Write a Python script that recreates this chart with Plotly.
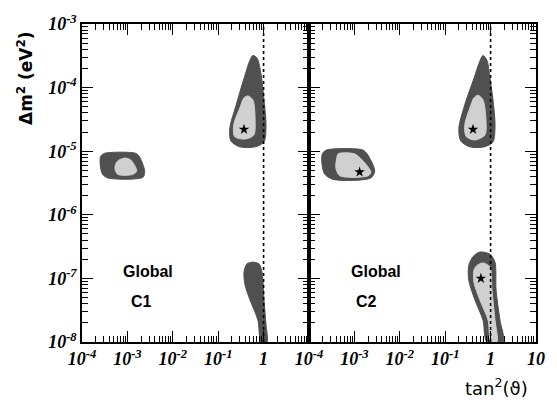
import plotly.graph_objects as go

# ---- axis ticks ----
X_TICKS = [1e-4, 1e-3, 1e-2, 1e-1, 1, 10]
X_LABELS_LEFT = ["10<sup>-4</sup>", "10<sup>-3</sup>", "10<sup>-2</sup>", "10<sup>-1</sup>", "1", ""]
X_LABELS_RIGHT = ["10<sup>-4</sup>", "10<sup>-3</sup>", "10<sup>-2</sup>", "10<sup>-1</sup>", "1", "10"]
Y_TICKS = [1e-8, 1e-7, 1e-6, 1e-5, 1e-4, 1e-3]
Y_LABELS = ["10<sup>-8</sup>", "10<sup>-7</sup>", "10<sup>-6</sup>", "10<sup>-5</sup>", "10<sup>-4</sup>", "10<sup>-3</sup>"]

# ---- panel C1 regions (tan^2, dm^2) ----
C1_SMA_OUT_X = [3.2e-4, 1.5e-3, 1.8e-3, 2.4e-3, 2.2e-3, 3.7e-4, 2.8e-4, 2.5e-4, 2.6e-4]
C1_SMA_OUT_Y = [9.3e-6, 9.3e-6, 8.4e-6, 4.9e-6, 3.9e-6, 3.8e-6, 4.4e-6, 6.7e-6, 8.4e-6]
C1_SMA_IN_X = [6.2e-4, 8.9e-4, 1.2e-3, 1.6e-3, 1.3e-3, 6.2e-4, 5.4e-4, 5.4e-4]
C1_SMA_IN_Y = [7.1e-6, 7.8e-6, 7.2e-6, 4.9e-6, 4.3e-6, 4.3e-6, 5.0e-6, 6.0e-6]

C1_LMA_OUT_X = [0.58, 0.72, 0.88, 1.02, 1.13, 1.02, 0.65, 0.30, 0.19, 0.18, 0.25, 0.37, 0.50]
C1_LMA_OUT_Y = [3.2e-4, 2.9e-4, 1.6e-4, 6.4e-5, 2.6e-5, 1.4e-5, 1.17e-5, 1.17e-5, 1.45e-5, 2.3e-5, 5.4e-5, 1.4e-4, 2.7e-4]
C1_LMA_IN_X = [0.45, 0.58, 0.65, 0.61, 0.39, 0.23, 0.22, 0.30, 0.37]
C1_LMA_IN_Y = [7.4e-5, 6.4e-5, 3.1e-5, 1.8e-5, 1.55e-5, 1.7e-5, 2.6e-5, 4.8e-5, 6.9e-5]

C1_LOW_OUT_X = [0.58, 0.79, 0.92, 1.02, 1.13, 1.19, 0.88, 0.75, 0.50, 0.39, 0.37, 0.43]
C1_LOW_OUT_Y = [1.8e-7, 1.7e-7, 1.26e-7, 4.6e-8, 1.85e-8, 1.0e-8, 1.0e-8, 2.2e-8, 4.6e-8, 7.9e-8, 1.26e-7, 1.7e-7]

C1_BEST_X = [0.37]
C1_BEST_Y = [2.2e-5]

# ---- panel C2 regions ----
C2_SMA_OUT_X = [2.5e-4, 1.5e-3, 1.9e-3, 2.8e-3, 2.3e-3, 3.4e-4, 2.2e-4, 1.9e-4, 2.0e-4]
C2_SMA_OUT_Y = [1.05e-5, 1.05e-5, 9.1e-6, 4.9e-6, 3.8e-6, 3.6e-6, 4.4e-6, 7.2e-6, 9.3e-6]
C2_SMA_IN_X = [4.4e-4, 1.0e-3, 1.5e-3, 2.3e-3, 2.0e-3, 4.8e-4, 3.9e-4, 4.1e-4]
C2_SMA_IN_Y = [9.1e-6, 9.1e-6, 7.2e-6, 4.7e-6, 4.1e-6, 4.1e-6, 5.5e-6, 7.8e-6]

C2_LMA_OUT_X = [0.68, 0.83, 0.97, 1.13, 1.25, 1.13, 0.72, 0.35, 0.22, 0.20, 0.27, 0.43, 0.59]
C2_LMA_OUT_Y = [3.2e-4, 2.7e-4, 1.4e-4, 6.4e-5, 2.6e-5, 1.4e-5, 1.17e-5, 1.17e-5, 1.45e-5, 2.3e-5, 5.4e-5, 1.4e-4, 2.7e-4]
C2_LMA_IN_X = [0.53, 0.68, 0.79, 0.75, 0.45, 0.29, 0.27, 0.35, 0.43]
C2_LMA_IN_Y = [7.6e-5, 6.4e-5, 3.1e-5, 1.8e-5, 1.5e-5, 1.7e-5, 2.6e-5, 4.8e-5, 6.9e-5]

C2_LOW_OUT_X = [0.58, 0.97, 1.25, 1.32, 1.61, 1.9, 0.83, 0.68, 0.45, 0.33, 0.33, 0.41]
C2_LOW_OUT_Y = [2.6e-7, 2.4e-7, 1.8e-7, 6.6e-8, 2.2e-8, 1.0e-8, 1.0e-8, 2.2e-8, 4.6e-8, 9.4e-8, 1.6e-7, 2.2e-7]
C2_LOW_IN_X = [0.68, 0.97, 1.07, 1.25, 1.38, 1.02, 0.88, 0.58, 0.43, 0.43, 0.50]
C2_LOW_IN_Y = [1.75e-7, 1.5e-7, 6.6e-8, 2.2e-8, 1.0e-8, 1.0e-8, 2.2e-8, 4.6e-8, 8.7e-8, 1.35e-7, 1.6e-7]

C2_BEST_X = [1.3e-3, 0.41, 0.61]
C2_BEST_Y = [4.7e-6, 2.2e-5, 1.0e-7]

MAXIMAL_MIXING = 1.0

DARK = "#505050"
LIGHT = "#d0d0d0"

# page body has an 8px margin: figure is drawn 8px in from the window corner
OFF = 8
W, H = 557 - OFF, 409 - OFF


def px_x(p):
    return (p - OFF) / W


def px_y(p):
    return 1 - (p - OFF) / H


fig = go.Figure()


def region(xs, ys, color, xa, ya):
    fig.add_trace(go.Scatter(
        x=xs + xs[:1], y=ys + ys[:1], mode="lines", fill="toself",
        fillcolor=color, line=dict(color=color, width=1, shape="spline", smoothing=0.8),
        xaxis=xa, yaxis=ya, hoverinfo="skip", showlegend=False))


region(C1_SMA_OUT_X, C1_SMA_OUT_Y, DARK, "x", "y")
region(C1_SMA_IN_X, C1_SMA_IN_Y, LIGHT, "x", "y")
region(C1_LMA_OUT_X, C1_LMA_OUT_Y, DARK, "x", "y")
region(C1_LMA_IN_X, C1_LMA_IN_Y, LIGHT, "x", "y")
region(C1_LOW_OUT_X, C1_LOW_OUT_Y, DARK, "x", "y")

region(C2_SMA_OUT_X, C2_SMA_OUT_Y, DARK, "x2", "y2")
region(C2_SMA_IN_X, C2_SMA_IN_Y, LIGHT, "x2", "y2")
region(C2_LMA_OUT_X, C2_LMA_OUT_Y, DARK, "x2", "y2")
region(C2_LMA_IN_X, C2_LMA_IN_Y, LIGHT, "x2", "y2")
region(C2_LOW_OUT_X, C2_LOW_OUT_Y, DARK, "x2", "y2")
region(C2_LOW_IN_X, C2_LOW_IN_Y, LIGHT, "x2", "y2")

for xa, ya in (("x", "y"), ("x2", "y2")):
    fig.add_trace(go.Scatter(
        x=[MAXIMAL_MIXING, MAXIMAL_MIXING], y=[Y_TICKS[0], Y_TICKS[-1]], mode="lines",
        line=dict(color="black", width=1.6, dash="dot"),
        xaxis=xa, yaxis=ya, hoverinfo="skip", showlegend=False))

fig.add_trace(go.Scatter(x=C1_BEST_X, y=C1_BEST_Y, mode="markers",
                         marker=dict(symbol="star", size=8, color="black"),
                         xaxis="x", yaxis="y", showlegend=False))
fig.add_trace(go.Scatter(x=C2_BEST_X, y=C2_BEST_Y, mode="markers",
                         marker=dict(symbol="star", size=8, color="black"),
                         xaxis="x2", yaxis="y2", showlegend=False))

tickfont = dict(family="Liberation Serif", size=18, color="black", weight="bold", style="italic")
minor = dict(ticks="inside", ticklen=6, tickwidth=1, tickcolor="black", dtick="D1", showgrid=False)

common = dict(type="log", showline=True, linecolor="black", linewidth=1.5, mirror="allticks",
              ticks="inside", ticklen=11, tickwidth=1.2, tickcolor="black", showgrid=False,
              zeroline=False, tickfont=tickfont, minor=minor, automargin=False)

x_dom_left = [px_x(82), px_x(309)]
x_dom_right = [px_x(309), px_x(536)]
y_dom = [px_y(342), px_y(24)]

fig.update_layout(
    width=W, height=H, margin=dict(l=0, r=0, t=0, b=0, autoexpand=False),
    paper_bgcolor="white", plot_bgcolor="white", showlegend=False,
    xaxis=dict(common, domain=x_dom_left, range=[-4, 1], tickmode="array",
               tickvals=X_TICKS, ticktext=X_LABELS_LEFT, anchor="y"),
    xaxis2=dict(common, domain=x_dom_right, range=[-4, 1], tickmode="array",
                tickvals=X_TICKS, ticktext=X_LABELS_RIGHT, anchor="y2"),
    yaxis=dict(common, domain=y_dom, range=[-8, -3], tickmode="array",
               tickvals=Y_TICKS, ticktext=Y_LABELS, anchor="x"),
    yaxis2=dict(common, domain=y_dom, range=[-8, -3], tickmode="array",
                tickvals=Y_TICKS, ticktext=[""] * 6, anchor="x2"),
)

label_font = dict(family="Liberation Sans", size=16, color="black", weight="bold")
for text, px, py in (("Global", 148, 271), ("C1", 141, 301), ("Global", 376, 271), ("C2", 366, 301)):
    fig.add_annotation(text=text, x=px_x(px), y=px_y(py), xref="paper", yref="paper",
                       xanchor="center", yanchor="middle", showarrow=False, font=label_font)

fig.add_annotation(text="Δm<sup>2</sup> (eV<sup>2</sup>)", x=px_x(25), y=px_y(78),
                   xref="paper", yref="paper", xanchor="center", yanchor="middle",
                   showarrow=False, textangle=-90,
                   font=dict(family="DejaVu Sans", size=17, color="black", weight="bold"))
fig.add_annotation(text="tan<sup>2</sup>(ϑ)", x=px_x(496), y=px_y(387),
                   xref="paper", yref="paper", xanchor="center", yanchor="middle",
                   showarrow=False,
                   font=dict(family="DejaVu Sans", size=18, color="black"))

fig.write_html("out.html")
